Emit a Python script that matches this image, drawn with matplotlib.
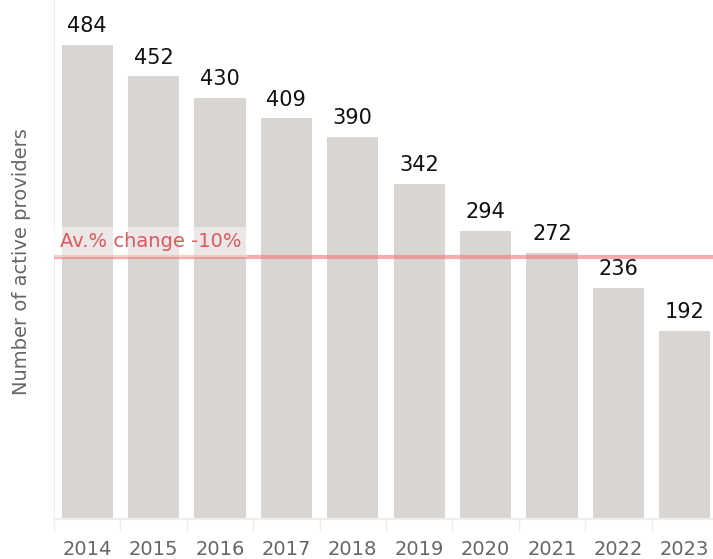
import matplotlib.pyplot as plt

years = ['2014', '2015', '2016', '2017', '2018', '2019', '2020', '2021', '2022', '2023']
providers = [484, 452, 430, 409, 390, 342, 294, 272, 236, 192]
avg_line = 268
avg_label = 'Av.% change -10%'

plt.rcParams['font.family'] = ['DejaVu Sans']

fig = plt.figure(figsize=(7.13, 5.59), dpi=100)
W, H = 713, 559
# axes in pixel terms: left 54, right 718 (slightly past the edge), top 0, bottom 519
ax = fig.add_axes([54 / W, (H - 519) / H, (718 - 54) / W, 519 / H])

x = list(range(len(years)))
ax.bar(x, providers, width=0.77, color='#d9d5d2', zorder=1)
ax.set_xlim(-0.5, len(years) - 0.5)
ax.set_ylim(0, 530)

for i, v in enumerate(providers):
    ax.text(i, v + 9, str(v), ha='center', va='bottom', fontsize=15, color='#111111')

# average change line
ax.axhline(avg_line, color='#f08080', alpha=0.65, lw=3, zorder=3)
ax.text(-0.41, avg_line + 15, avg_label, ha='left', va='center', fontsize=14,
        color='#e0585c', zorder=4,
        bbox=dict(facecolor='white', alpha=0.45, edgecolor='none', pad=4))

ax.set_yticks([])
ax.set_xticks(x)
ax.set_xticklabels(years, fontsize=14, color='#666666')
ax.tick_params(axis='x', length=0, pad=15)
# category separator ticks
for b in range(len(years) + 1):
    ax.plot([b - 0.5, b - 0.5], [0, -12], color='#eeeeee', lw=1, clip_on=False)

for s in ['top', 'right']:
    ax.spines[s].set_visible(False)
ax.spines['left'].set_color('#eeeeee')
ax.spines['bottom'].set_color('#eeeeee')
ax.spines['bottom'].set_linewidth(1.5)

fig.text(22 / W, 1 - 262 / H, 'Number of active providers', rotation=90,
         ha='center', va='center', fontsize=14, color='#666666')

fig.savefig('out.png', dpi=100)
